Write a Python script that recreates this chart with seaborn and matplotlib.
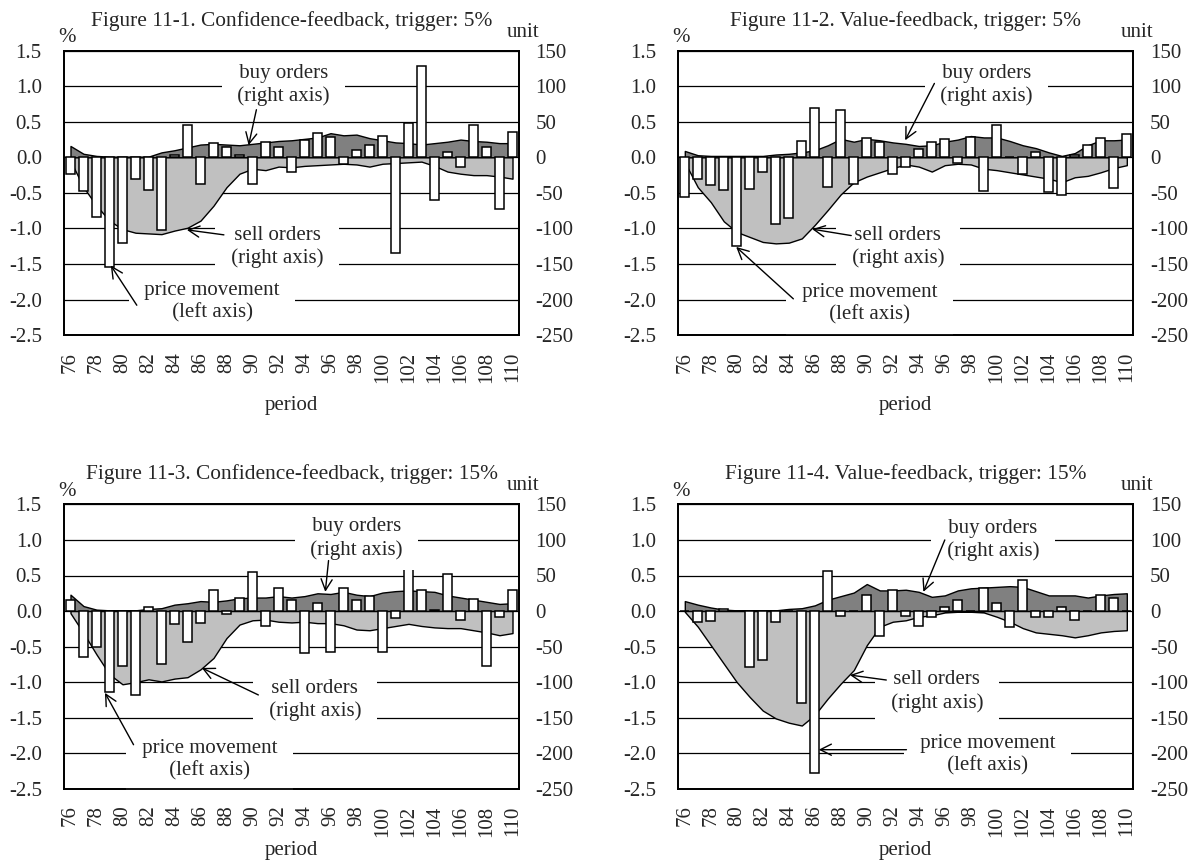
import numpy as np
import pandas as pd
import matplotlib
matplotlib.use("Agg")
import matplotlib.pyplot as plt
import seaborn as sns

sns.set_theme(style="white")
plt.rcParams["font.family"] = ["Liberation Serif", "DejaVu Serif"]
plt.rcParams["font.size"] = 15
plt.rcParams["axes.unicode_minus"] = False

periods = list(range(76, 111))

# Figure 11-1: confidence-feedback, trigger 5%
cf5_price = [-0.24, -0.47, -0.84, -1.54, -1.20, -0.31, -0.46, -1.02, 0.04, 0.45,
             -0.38, 0.20, 0.15, 0.03, -0.38, 0.21, 0.14, -0.20, 0.24, 0.34,
             0.28, -0.09, 0.10, 0.17, 0.30, -1.35, 0.48, 1.28, -0.60, 0.07,
             -0.13, 0.45, 0.15, -0.72, 0.36]
cf5_buy = [16, 5, 2, 1, 1, 1, 1, 7, 10, 14, 18, 19, 18, 17, 19, 21, 23, 24, 26, 28,
           34, 31, 32, 27, 24, 21, 20, 18, 20, 22, 25, 23, 22, 20, 20]
cf5_sell = [-5, -42, -68, -89, -101, -106, -107, -108, -103, -99, -89, -68, -42, -23, -16,
            -18, -13, -14, -12, -11, -10, -9, -10, -13, -9, -8, -7, -6, -12, -20,
            -23, -25, -25, -27, -30]

# Figure 11-2: value-feedback, trigger 5%
vf5_price = [-0.56, -0.30, -0.39, -0.46, -1.25, -0.45, -0.20, -0.94, -0.86, 0.23,
             0.69, -0.42, 0.66, -0.37, 0.27, 0.22, -0.24, -0.14, 0.12, 0.22,
             0.26, -0.08, 0.29, -0.48, 0.46, 0.01, -0.24, 0.07, -0.49, -0.53,
             0.04, 0.17, 0.27, -0.43, 0.33]
vf5_buy = [9, 3, 2, 2, 2, 2, 2, 4, 5, 7, 10, 17, 26, 22, 26, 24, 21, 19, 16, 17,
           22, 25, 30, 28, 28, 23, 17, 13, 7, 2, 6, 17, 24, 24, 25]
vf5_sell = [-7, -42, -63, -90, -105, -112, -119, -121, -120, -114, -95, -74, -52, -35, -27,
            -21, -15, -10, -13, -20, -11, -9, -10, -16, -18, -21, -24, -27, -30, -35,
            -28, -26, -21, -15, -11]

# Figure 11-3: confidence-feedback, trigger 15%
cf15_price = [0.15, -0.64, -0.51, -1.14, -0.77, -1.18, 0.05, -0.74, -0.18, -0.44,
              -0.17, 0.29, -0.04, 0.19, 0.55, -0.21, 0.32, 0.15, -0.59, 0.12,
              -0.58, 0.33, 0.15, 0.21, -0.57, -0.10, 0.85, 0.29, 0.02, 0.52,
              -0.12, 0.17, -0.77, -0.09, 0.29]
cf15_buy = [23, 7, 2, 1, 1, 1, 3, 4, 9, 11, 14, 13, 15, 18, 19, 19, 21, 19, 21, 25,
            24, 27, 23, 21, 26, 28, 29, 28, 27, 22, 19, 16, 13, 10, 11]
cf15_sell = [-3, -31, -61, -89, -103, -100, -96, -99, -95, -93, -82, -66, -38, -19, -13,
             -12, -15, -16, -15, -17, -17, -20, -26, -27, -24, -21, -18, -21, -23, -24,
             -24, -27, -30, -34, -31]

# Figure 11-4: value-feedback, trigger 15%
vf15_price = [0.0, -0.16, -0.14, 0.03, 0.0, -0.78, -0.69, -0.15, 0.0, -1.29,
              -2.28, 0.57, -0.07, 0.0, 0.23, -0.35, 0.29, -0.07, -0.21, -0.09,
              0.06, 0.15, 0.0, 0.32, 0.11, -0.23, 0.43, -0.09, -0.09, 0.06,
              -0.12, 0.0, 0.22, 0.19, 0.0]
vf15_buy = [14, 9, 5, 2, 1, 1, 1, 1, 3, 4, 8, 16, 21, 26, 38, 29, 29, 30, 27, 20,
            22, 29, 32, 33, 34, 35, 34, 28, 22, 22, 22, 19, 22, 24, 25]
vf15_sell = [-1, -22, -48, -74, -100, -121, -140, -151, -157, -161, -146, -123, -102, -83, -48,
             -22, -15, -13, -8, -6, -2, -1, -1, -2, -8, -15, -24, -30, -32, -34,
             -37, -34, -30, -28, -27]

titles = ["Figure 11-1. Confidence-feedback, trigger: 5%",
          "Figure 11-2. Value-feedback, trigger: 5%",
          "Figure 11-3. Confidence-feedback, trigger: 15%",
          "Figure 11-4. Value-feedback, trigger: 15%"]

series = [(cf5_price, cf5_buy, cf5_sell),
          (vf5_price, vf5_buy, vf5_sell),
          (cf15_price, cf15_buy, cf15_sell),
          (vf15_price, vf15_buy, vf15_sell)]

# label placement: (text xy, arrow tail, arrow head) in (period index, left-axis %) coordinates
callouts = [
    {"buy": ((16.4, 1.02), (14.3, 0.67), (13.7, 0.17)),
     "sell": ((15.9, -1.26), (11.8, -1.09), (8.95, -1.02)),
     "price": ((10.9, -2.03), (5.1, -2.08), (3.1, -1.52))},
    {"buy": ((23.2, 1.02), (19.2, 1.04), (16.95, 0.24)),
     "sell": ((16.4, -1.26), (12.8, -1.10), (9.8, -1.01)),
     "price": ((14.2, -2.06), (8.35, -1.99), (3.95, -1.26))},
    {"buy": ((22.0, 1.02), (19.85, 0.71), (19.6, 0.27)),
     "sell": ((18.8, -1.25), (14.45, -1.18), (10.1, -0.80)),
     "price": ((10.7, -2.09), (4.85, -1.88), (2.65, -1.15))},
    {"buy": ((23.7, 1.00), (20.0, 1.00), (18.35, 0.27)),
     "sell": ((19.4, -1.13), (15.5, -0.97), (12.7, -0.90)),
     "price": ((23.3, -2.02), (17.05, -1.95), (10.3, -1.95))},
]
NB = "\u00a0"
label_lines = {"buy": ["buy orders", "(right axis)"],
               "sell": ["sell orders", "(right axis)"],
               "price": ["price movement", "(left axis)"]}
label_text = {k: "\n".join(NB + s + NB for s in v) for k, v in label_lines.items()}

W, H = 1196, 866
fig = plt.figure(figsize=(W / 100, H / 100), dpi=100)
fig.patch.set_facecolor("white")

ax_w, ax_h = 455, 284.4
lefts = [64, 678.3]
tops = [50.7, 504.4]
xlabel_pads = [9, 3]

x = np.arange(len(periods))
left_ticks = np.arange(-2.5, 1.51, 0.5)
right_ticks = np.arange(-250, 151, 50)

for k in range(4):
    col, row = k % 2, k // 2
    rect = [lefts[col] / W, 1 - (tops[row] + ax_h) / H, ax_w / W, ax_h / H]
    ax = fig.add_axes(rect)
    ax2 = ax.twinx()
    ax.set_zorder(ax2.get_zorder() + 1)
    ax.patch.set_visible(False)
    ax2.patch.set_facecolor("white")

    price, buy, sell = series[k]
    df = pd.DataFrame({"period": [str(p) for p in periods], "price": price})

    # order volumes on the right axis
    ax2.fill_between(x, 0, buy, facecolor="#808080", edgecolor="black",
                     linewidth=1.0, zorder=2)
    ax2.fill_between(x, 0, sell, facecolor="#c0c0c0", edgecolor="black",
                     linewidth=1.0, zorder=2)
    ax2.set_ylim(-250, 150)
    ax2.set_yticks(right_ticks)
    ax2.set_yticklabels([f"{int(v)}" for v in right_ticks])
    ax2.grid(axis="y", color="black", linewidth=0.9)
    ax2.grid(axis="x", visible=False)
    ax2.set_axisbelow(True)
    ax2.tick_params(axis="y", length=0, pad=12, labelsize=15)

    # price movement bars on the left axis
    sns.barplot(data=df, x="period", y="price", ax=ax, color="white",
                saturation=1, edgecolor="black", linewidth=1.1, width=0.67,
                zorder=3)
    ax.set_xlim(-0.5, len(periods) - 0.5)
    ax.set_ylim(-2.5, 1.5)
    ax.set_yticks(left_ticks)
    ax.set_yticklabels([f"{v:.1f}" for v in left_ticks])
    ax.set_xticks(x[::2])
    ax.set_xticklabels([str(p) for p in periods[::2]], rotation=90)
    ax.tick_params(axis="y", length=0, pad=16, labelsize=15)
    ax.tick_params(axis="x", length=0, pad=12, labelsize=15)
    ax.set_xlabel("period", fontsize=15, labelpad=xlabel_pads[row])
    ax.set_ylabel("")
    ax.grid(False)

    for a in (ax, ax2):
        for s in a.spines.values():
            s.set_color("black")
            s.set_linewidth(1.3)
            s.set_zorder(10)

    ax.text(0.5, 1.105, titles[k], transform=ax.transAxes, ha="center",
            va="center", fontsize=15.4)
    ax.text(1.009, 1.065, "unit", transform=ax.transAxes, ha="center",
            va="center", fontsize=15)
    ax.text(0.006, 1.045, "%", transform=ax.transAxes, ha="center",
            va="center", fontsize=15)

    for key, (txy, tail, head) in callouts[k].items():
        ax.text(txy[0], txy[1], label_text[key], ha="center", va="center",
                fontsize=15, linespacing=1.25, zorder=6,
                bbox=dict(boxstyle="square,pad=0.5", facecolor="white",
                          edgecolor="none"))
        ax.annotate("", xy=head, xytext=tail, zorder=7,
                    arrowprops=dict(arrowstyle="->", color="black", lw=1.0,
                                    shrinkA=0, shrinkB=0, mutation_scale=20))

fig.savefig("out.png", dpi=100, facecolor="white")
